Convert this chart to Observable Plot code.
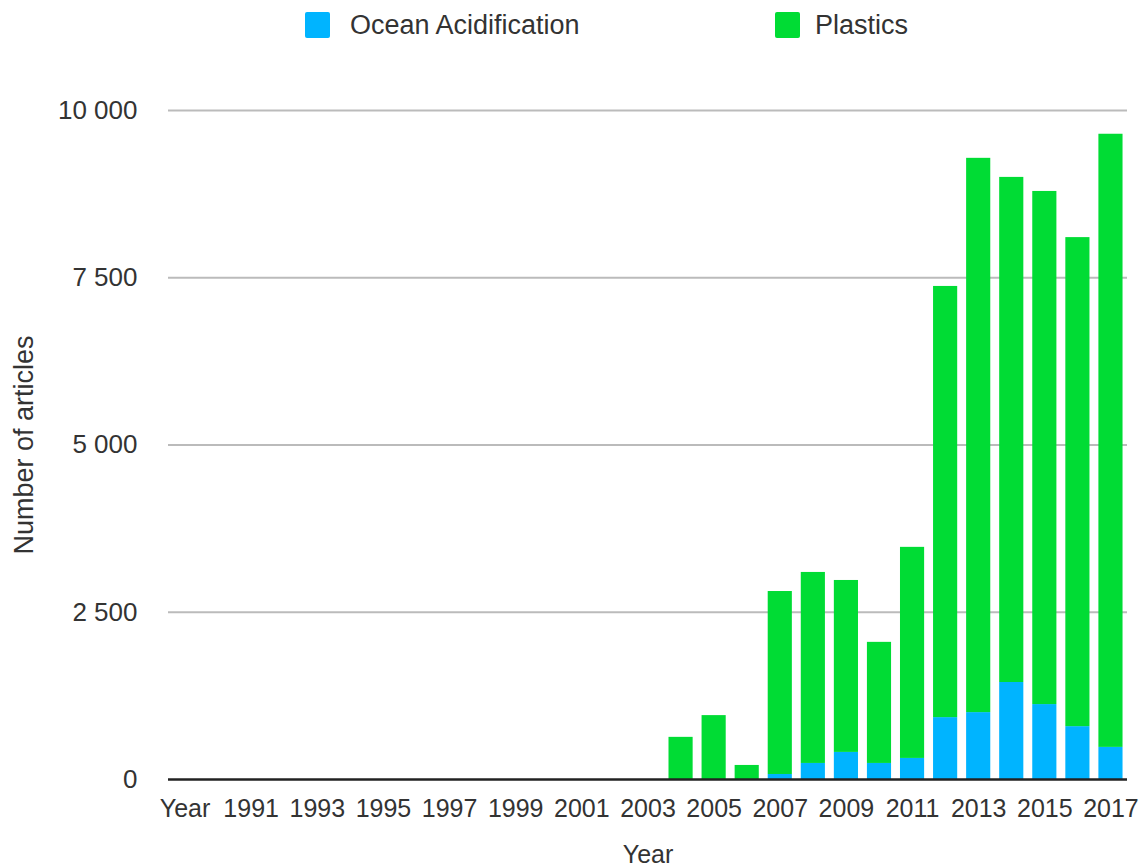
<!DOCTYPE html>
<html>
<head>
<meta charset="utf-8">
<script src="https://cdn.jsdelivr.net/npm/d3@7"></script>
<script src="https://cdn.jsdelivr.net/npm/@observablehq/plot@0.6"></script>
<style>
  html, body { margin: 0; padding: 0; background: #fff; }
  #wrap { position: relative; width: 1143px; height: 867px; font-family: "Liberation Sans", Arial, sans-serif; color: #333; }
  #legend { position: absolute; left: 0; top: 0; width: 1143px; height: 55px; }
  .sw { position: absolute; top: 12px; width: 25px; height: 26px; border-radius: 2px; }
  .lt { position: absolute; top: 10px; font-size: 27px; line-height: 30px; color: #333; }
  #chart { position: absolute; left: 0; top: 0; }
  g[aria-label="y-axis label"] text { font-size: 27px; }
  g[aria-label="y-axis tick label"] text { font-size: 26px; }
</style>
</head>
<body>
<div id="wrap">
  <div id="chart"></div>
  <div id="legend"></div>
</div>
<script>
const categories = ["Year","1990","1991","1992","1993","1994","1995","1996","1997","1998","1999","2000","2001","2002","2003","2004","2005","2006","2007","2008","2009","2010","2011","2012","2013","2014","2015","2016","2017"];
const years = ["1990","1991","1992","1993","1994","1995","1996","1997","1998","1999","2000","2001","2002","2003","2004","2005","2006","2007","2008","2009","2010","2011","2012","2013","2014","2015","2016","2017"];
const oceanAcidification = [0,0,0,0,0,0,0,0,0,0,0,0,0,0,0,0,0,75,240,405,240,315,925,1000,1450,1120,790,480];
const plastics = [0,0,0,0,0,0,0,0,0,0,0,0,0,0,630,955,210,2735,2855,2570,1810,3155,6445,8285,7550,7670,7310,9165];
const seriesNames = ["Ocean Acidification","Plastics"];
const seriesColors = ["#00B4FF","#00DC34"];
const yTicks = [0,2500,5000,7500,10000];
const xLabelTicks = categories.filter((d, i) => i % 2 === 0);

const rows = years.flatMap((y, i) => [
  {year: y, series: seriesNames[0], value: oceanAcidification[i]},
  {year: y, series: seriesNames[1], value: plastics[i]}
]);

const fmt = d => d3.format(",")(d).replace(/,/g, " ");

const chart = Plot.plot({
  width: 1143,
  height: 867,
  marginLeft: 168,
  marginRight: 16,
  marginTop: 110,
  marginBottom: 88,
  style: {fontFamily: "'Liberation Sans', Arial, sans-serif", fontSize: "25px", color: "#333", background: "white"},
  x: {type: "band", domain: categories, paddingInner: 0.27, paddingOuter: 0.135, round: false},
  y: {domain: [0, 10000]},
  color: {domain: seriesNames, range: seriesColors},
  marks: [
    Plot.gridY(yTicks.filter(d => d > 0), {stroke: "#bbb", strokeOpacity: 1, strokeWidth: 2}),
    Plot.barY(rows, Plot.stackY({x: "year", y: "value", fill: "series", order: seriesNames})),
    Plot.ruleY([0], {stroke: "#222", strokeWidth: 2.5}),
    Plot.axisY({ticks: yTicks, tickSize: 0, tickPadding: 31, tickFormat: fmt, label: "Number of articles", labelArrow: "none", labelAnchor: "center", labelOffset: 155, fill: "#333"}),
    Plot.axisX({ticks: xLabelTicks, tickSize: 0, tickPadding: 20, label: "Year", labelArrow: "none", labelAnchor: "center", labelOffset: 83, fill: "#333"})
  ]
});
document.getElementById("chart").appendChild(chart);

const legend = document.getElementById("legend");
const swLeft = [305, 775];
const txtLeft = [350, 815];
seriesNames.forEach((name, i) => {
  const sw = document.createElement("div");
  sw.className = "sw";
  sw.style.left = swLeft[i] + "px";
  sw.style.background = seriesColors[i];
  legend.appendChild(sw);
  const t = document.createElement("div");
  t.className = "lt";
  t.style.left = txtLeft[i] + "px";
  t.textContent = name;
  legend.appendChild(t);
});
</script>
</body>
</html>
